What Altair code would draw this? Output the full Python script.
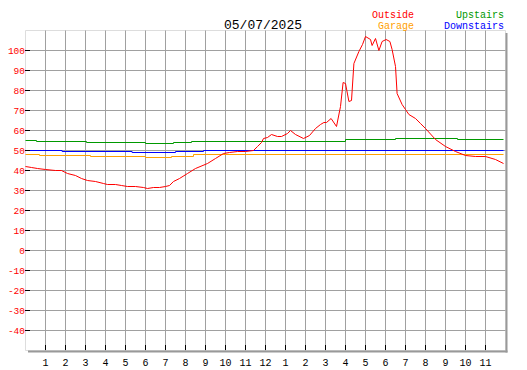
import altair as alt
import pandas as pd

# ---- data (hours since midnight, temperature) ----
out_h = [0.0, 0.3, 0.6, 1.0, 1.5, 1.8, 2.1, 2.5, 2.8, 3.1, 3.5, 3.9, 4.1, 4.5, 4.8, 5.1, 5.5,
         5.9, 6.1, 6.4, 6.7, 7.0, 7.2, 7.4, 7.7, 8.1, 8.5, 9.1, 9.5, 9.9, 10.2, 10.6, 11.0,
         11.4, 11.6, 11.8, 11.9, 12.1, 12.3, 12.6, 12.8, 13.1, 13.25, 13.5, 13.9, 14.2, 14.5,
         14.75, 14.92, 15.05, 15.28, 15.55, 15.75, 15.88, 16.0, 16.17, 16.3, 16.42, 16.67,
         16.85, 17.0, 17.25, 17.33, 17.5, 17.67, 17.83, 18.03, 18.22, 18.33, 18.5, 18.58,
         18.83, 19.0, 19.17, 19.5, 19.75, 20.0, 20.5, 21.0, 21.5, 22.0, 22.5, 23.0, 23.5, 23.9]
out_v = [42.0, 41.5, 41.0, 40.5, 40.0, 40.0, 38.5, 37.5, 36.0, 35.0, 34.5, 33.5, 33.0, 33.0, 32.5, 32.0, 32.0,
         31.5, 31.0, 31.5, 31.5, 32.0, 32.5, 34.5, 36.0, 38.5, 41.0, 43.5, 46.0, 48.5, 49.0, 49.5, 49.5,
         50.0, 52.0, 54.0, 56.0, 56.5, 58.0, 57.0, 57.0, 58.5, 60.0, 58.0, 56.0, 57.5, 61.0,
         63.0, 64.0, 64.0, 66.0, 62.0, 72.0, 84.0, 83.5, 74.5, 75.0, 93.5, 99.5,
         103.0, 107.0, 105.5, 102.5, 106.0, 100.0, 104.5, 105.5, 104.5, 100.5, 92.0, 78.5,
         73.0, 70.5, 68.0, 66.0, 63.5, 61.0, 55.5, 52.0, 49.5, 47.5, 47.0, 47.0, 45.5, 43.5]

up_h = [0.0, 0.55, 3.05, 6.0, 7.4, 8.3, 16.0, 18.5, 21.6, 23.9]
up_v = [55.0, 54.5, 54.0, 53.5, 54.0, 54.5, 55.5, 56.0, 55.5, 55.5]

down_h = [0.0, 1.83, 5.33, 7.5, 8.9, 23.9]
down_v = [50.0, 49.5, 49.0, 49.5, 50.0, 50.0]

gar_h = [0.0, 0.7, 3.25, 6.0, 7.3, 8.4, 23.9]
gar_v = [48.0, 47.5, 47.0, 46.5, 47.0, 48.0, 48.0]

y_ticks = list(range(-40, 101, 10))
x_hours = list(range(1, 24))

title_text = "05/07/2025"
legend_names = ["Outside", "Garage", "Upstairs", "Downstairs"]
legend_colors = ["#ff0000", "#ffa000", "#009900", "#0000ff"]

FONT = "Liberation Mono"
W, H = 480, 320
GRID = "#a0a0a0"

xscale = alt.Scale(domain=[0, 24], nice=False, zero=False)
yscale = alt.Scale(domain=[-50, 110], nice=False, zero=False)

xaxis = alt.Axis(values=x_hours, grid=True, gridColor=GRID, gridWidth=1, gridOpacity=1,
                 ticks=False, domain=False,
                 labelExpr="datum.value <= 12 ? '' + datum.value : '' + (datum.value - 12)",
                 labelFont=FONT, labelFontSize=10, labelColor="black", labelPadding=7,
                 labelFlush=False, labelOverlap=False, title=None)
yaxis = alt.Axis(values=y_ticks, grid=True, gridColor=GRID, gridWidth=1, gridOpacity=1,
                 ticks=False, domain=False,
                 labelExpr="'' + datum.value", labelFont=FONT, labelFontSize=9.5, labelColor="#ff0000",
                 labelPadding=0.5, labelFlush=False, labelOverlap=False, title=None)

X = lambda: alt.X("h:Q", scale=xscale, axis=xaxis)
Y = lambda: alt.Y("v:Q", scale=yscale, axis=yaxis)


def series(h, v, color, interp):
    df = pd.DataFrame({"h": h, "v": v})
    return alt.Chart(df).mark_line(color=color, strokeWidth=1, interpolate=interp,
                                   xOffset=0.5, yOffset=0.5).encode(x=X(), y=Y())


gar = series(gar_h, gar_v, legend_colors[1], "step-after")
down = series(down_h, down_v, legend_colors[3], "step-after")
up = series(up_h, up_v, legend_colors[2], "step-after")
out = series(out_h, out_v, legend_colors[0], "linear")

ytick_marks = alt.Chart(pd.DataFrame({"v": y_ticks})).mark_rule(
    color="black", strokeWidth=1, yOffset=0.5).encode(y=Y(), x=alt.value(0), x2=alt.value(5))
xtick_marks = alt.Chart(pd.DataFrame({"h": x_hours})).mark_rule(
    color="black", strokeWidth=1, xOffset=0.5).encode(x=X(), y=alt.value(H - 5), y2=alt.value(H))

one = pd.DataFrame({"k": [0]})
shadow_r = alt.Chart(one).mark_rule(color="#999999", strokeWidth=2).encode(
    x=alt.value(W + 1.5), y=alt.value(3), y2=alt.value(H + 2.5))
shadow_b = alt.Chart(one).mark_rule(color="#999999", strokeWidth=2).encode(
    x=alt.value(3), x2=alt.value(W + 2.5), y=alt.value(H + 1.5))

title = alt.Chart(pd.DataFrame({"t": [title_text]})).mark_text(
    font=FONT, fontSize=13, fontWeight="normal", color="black", align="center").encode(
    text="t:N", x=alt.value(238), y=alt.value(-5))

legend_pos = [(389, -15), (389, -4), (479, -15), (479, -4)]
legend_layers = []
for name, col, (px, py) in zip(legend_names, legend_colors, legend_pos):
    legend_layers.append(
        alt.Chart(pd.DataFrame({"t": [name]})).mark_text(
            font=FONT, fontSize=10, color=col, align="right").encode(
            text="t:N", x=alt.value(px), y=alt.value(py))
    )

chart = alt.layer(gar, down, up, out, ytick_marks, xtick_marks, shadow_r, shadow_b, title,
                  *legend_layers).properties(
    width=W, height=H,
    autosize=alt.AutoSizeParams(type="none"),
    padding={"left": 17, "top": 22, "right": 14, "bottom": 20},
).configure_view(stroke="black", strokeWidth=1).configure(background="white")

chart.save("out.html", embed_options={"renderer": "svg", "actions": False})
